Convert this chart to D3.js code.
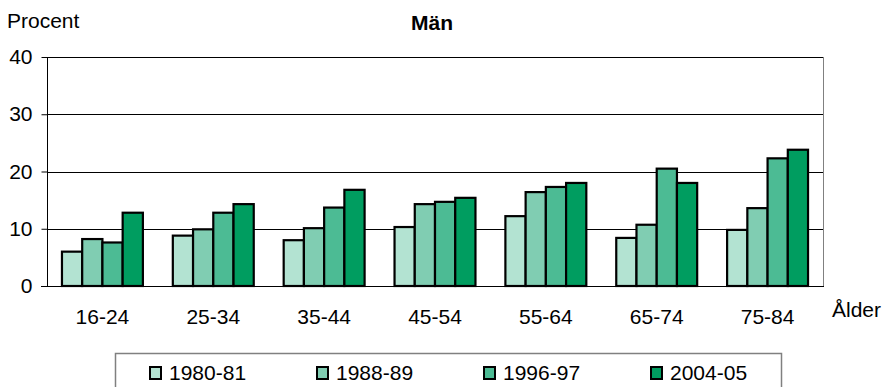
<!DOCTYPE html>
<html>
<head>
<meta charset="utf-8">
<script src="https://cdn.jsdelivr.net/npm/d3@7"></script>
<style>
  html, body { margin: 0; padding: 0; background: #fff; }
  svg { display: block; }
  text { font-family: "Liberation Sans", Arial, sans-serif; fill: #000; }
</style>
</head>
<body>
<svg id="chart" width="892" height="387"></svg>
<script>
// ---- Data ----
const categories = ["16-24", "25-34", "35-44", "45-54", "55-64", "65-74", "75-84"];
const seriesNames = ["1980-81", "1988-89", "1996-97", "2004-05"];
const values1980 = [6.0, 8.8, 8.0, 10.3, 12.2, 8.4, 9.8];
const values1988 = [8.2, 9.9, 10.1, 14.3, 16.4, 10.7, 13.6];
const values1996 = [7.6, 12.8, 13.7, 14.7, 17.3, 20.5, 22.3];
const values2004 = [12.8, 14.3, 16.8, 15.4, 18.0, 18.0, 23.8];
const yTicks = [0, 10, 20, 30, 40];
const colors = ["#b3e3d2", "#80cdb2", "#4cbb94", "#009d60"];

const seriesValues = [values1980, values1988, values1996, values2004];

const svg = d3.select("#chart");
const pLeft = 47, pRight = 823, pTop = 57, pBottom = 286;
const FS = "21px";

const x0 = d3.scaleBand().domain(categories).range([pLeft, pRight])
  .paddingInner(0.27).paddingOuter(0.135);
const x1 = d3.scaleBand().domain(seriesNames).range([0, x0.bandwidth()]).padding(0);
const y = d3.scaleLinear().domain([0, 40]).range([pBottom, pTop]);

// gridlines
svg.append("g").selectAll("line").data(yTicks.filter(d => d > 0)).join("line")
  .attr("x1", pLeft).attr("x2", pRight)
  .attr("y1", d => Math.round(y(d)) + 0.5).attr("y2", d => Math.round(y(d)) + 0.5)
  .attr("stroke", "#000").attr("stroke-width", 1);

// right border
svg.append("line").attr("x1", pRight + 0.5).attr("x2", pRight + 0.5)
  .attr("y1", Math.round(y(40))).attr("y2", Math.round(y(0)) + 1)
  .attr("stroke", "#808080").attr("stroke-width", 1);

// bars
const groups = svg.append("g").selectAll("g").data(categories).join("g")
  .attr("transform", d => `translate(${x0(d)},0)`);
groups.selectAll("rect").data((c, i) => seriesNames.map((s, j) => ({ s, j, v: seriesValues[j][i] })))
  .join("rect")
  .attr("x", d => x1(d.s))
  .attr("y", d => y(d.v))
  .attr("width", x1.bandwidth())
  .attr("height", d => y(0) - y(d.v))
  .attr("fill", d => colors[d.j])
  .attr("stroke", "#000").attr("stroke-width", 2.2);

// y axis
const yAxis = d3.axisLeft(y).tickValues(yTicks).tickSize(6).tickPadding(9).tickFormat(d3.format("d"));
const ya = svg.append("g").attr("transform", `translate(${pLeft + 0.5},0)`).call(yAxis);
ya.select(".domain").attr("stroke", "#000").attr("d", `M0,${pTop}V${pBottom}`);
ya.selectAll(".tick line").attr("stroke", "#000");
ya.selectAll("text").style("font-size", FS).style("font-family", "Liberation Sans, Arial, sans-serif").attr("fill", "#000");

// x axis
const xAxis = d3.axisBottom(x0).tickSize(0).tickPadding(23);
const xa = svg.append("g").attr("transform", `translate(0,${pBottom})`).call(xAxis);
xa.select(".domain").attr("stroke", "#000").attr("d", `M${pLeft - 6},0.5H${pRight + 1}`);
xa.selectAll("text").style("font-size", FS).style("font-family", "Liberation Sans, Arial, sans-serif").attr("fill", "#000");

// titles
svg.append("text").attr("x", 7).attr("y", 28).style("font-size", FS).text("Procent");
svg.append("text").attr("x", 432).attr("y", 30).attr("text-anchor", "middle")
  .style("font-size", FS).style("font-weight", "bold").text("Män");
svg.append("text").attr("x", 832).attr("y", 317).style("font-size", FS).text("Ålder");

// legend
const legX = d3.scalePoint().domain(seriesNames).range([149, 650]);
svg.append("rect").attr("x", 115.5).attr("y", 353.5).attr("width", 781 - 115).attr("height", 60)
  .attr("fill", "none").attr("stroke", "#808080").attr("stroke-width", 1.5);
const li = svg.append("g").selectAll("g").data(seriesNames).join("g")
  .attr("transform", d => `translate(${legX(d)},0)`);
li.append("rect").attr("x", 1).attr("y", 367).attr("width", 11).attr("height", 12)
  .attr("fill", (d, i) => colors[i]).attr("stroke", "#000").attr("stroke-width", 2);
li.append("text").attr("x", 20).attr("y", 380).style("font-size", FS).text(d => d);
</script>
</body>
</html>
